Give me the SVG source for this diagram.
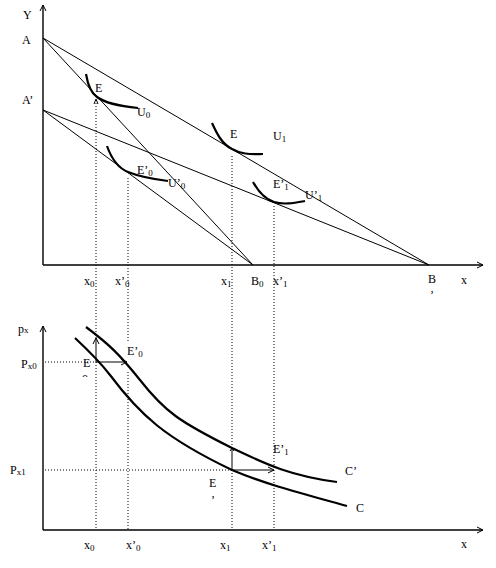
<svg xmlns="http://www.w3.org/2000/svg" width="496" height="568" viewBox="0 0 496 568">
<style>
text{font-family:"Liberation Serif","Times New Roman",serif;font-size:12px;fill:#000}
.s{font-size:9px}
.ax{stroke:#000;stroke-width:1.4;fill:none}
.ln{stroke:#000;stroke-width:1;fill:none}
.dot{stroke:#000;stroke-width:1;stroke-dasharray:1 2;fill:none}
.cv{stroke:#000;stroke-width:2.2;fill:none}
</style>
<defs>
<marker id="ah" markerWidth="8" markerHeight="8" refX="7" refY="4" orient="auto" markerUnits="userSpaceOnUse">
<path d="M1,1 L7,4 L1,7" fill="none" stroke="#000" stroke-width="1"/>
</marker>
<clipPath id="half"><rect x="80" y="372" width="14" height="5"/></clipPath>
</defs>
<rect width="496" height="568" fill="#fff"/>
<g id="axes">
<line class="ax" x1="43" y1="265" x2="43" y2="5" marker-end="url(#ah)"/>
<line class="ax" x1="43" y1="265" x2="483" y2="265" marker-end="url(#ah)"/>
<line class="ax" x1="43" y1="530" x2="43" y2="326" marker-end="url(#ah)"/>
<line class="ax" x1="43" y1="530" x2="483" y2="530" marker-end="url(#ah)"/>
</g>
<g id="connectors">
<line class="ln" x1="43" y1="38" x2="429" y2="265"/>
<line class="ln" x1="43" y1="38" x2="253" y2="265"/>
<line class="ln" x1="43" y1="110" x2="429" y2="265"/>
<line class="ln" x1="43" y1="110" x2="253" y2="265"/>
<line class="dot" x1="96" y1="100" x2="96" y2="338"/>
<line class="dot" x1="96" y1="362" x2="96" y2="530"/>
<path d="M94,104 L96,99 L98,104" class="ln"/>
<line class="dot" x1="128" y1="178" x2="128" y2="343"/>
<line class="dot" x1="128" y1="372" x2="128" y2="530"/>
<line class="dot" x1="232" y1="156" x2="232" y2="448"/>
<line class="dot" x1="232" y1="470" x2="232" y2="530"/>
<line class="dot" x1="274" y1="206" x2="274" y2="530"/>
<line class="dot" x1="45" y1="362" x2="96" y2="362"/>
<line class="dot" x1="45" y1="470" x2="232" y2="470"/>
<line class="ln" x1="96" y1="362" x2="96" y2="338" marker-end="url(#ah)"/>
<line class="ln" x1="96" y1="362" x2="127" y2="362" marker-end="url(#ah)"/>
<line class="ln" x1="232" y1="470" x2="232" y2="448"/>
<path class="ln" d="M230,451 L232,448 L234,451"/>
<line class="ln" x1="232" y1="470" x2="274" y2="470" marker-end="url(#ah)"/>
</g>
<g id="U0">
<path class="cv" d="M86,74 C88,86 91,93 97,97 C105,103 118,106 138,108"/>
<text x="137" y="116">U<tspan class="s" dy="2">0</tspan></text>
<text x="95" y="92">E</text>
</g>
<g id="U0p">
<path class="cv" d="M107,146 C112,160 118,168 128,172 C138,176 152,179 168,181"/>
<text x="137" y="174">E’<tspan class="s" dy="2">0</tspan></text>
<text x="168" y="187">U’<tspan class="s" dy="2">0</tspan></text>
</g>
<g id="U1">
<path class="cv" d="M212,123 C217,134 222,144 232,149 C242,155 252,154 263,154"/>
<text x="230" y="138">E</text>
<text x="273" y="140">U<tspan class="s" dy="2">1</tspan></text>
</g>
<g id="U1p">
<path class="cv" d="M253,182 C258,191 264,199 274,202 C284,205 294,203 305,201"/>
<text x="273" y="188">E’<tspan class="s" dy="2">1</tspan></text>
<text x="305" y="199">U’<tspan class="s" dy="2">1</tspan></text>
</g>
<g id="topLabels">
<text x="23" y="19">Y</text>
<text x="22" y="44">A</text>
<text x="22" y="104">A’</text>
<text x="84" y="285">x<tspan class="s" dy="2">0</tspan></text>
<text x="115" y="285">x’<tspan class="s" dy="2">0</tspan></text>
<text x="221" y="285">x<tspan class="s" dy="2">1</tspan></text>
<text x="251" y="285">B<tspan class="s" dy="2">0</tspan></text>
<text x="273" y="285">x’<tspan class="s" dy="2">1</tspan></text>
<text x="428" y="283">B</text>
<text x="430" y="299">’</text>
<text x="461" y="284">x</text>
</g>
<g id="Cp">
<path class="cv" d="M86,327 C110,345 120,355 140,380 C165,412 180,422 232,448 C260,461 285,475 337,482"/>
<text x="345" y="475">C’</text>
<text x="127" y="355">E’<tspan class="s" dy="2">0</tspan></text>
<text x="273" y="453">E’<tspan class="s" dy="2">1</tspan></text>
</g>
<g id="C">
<path class="cv" d="M75,338 C90,352 100,362 110,375 C140,415 165,438 232,470 C265,484 300,493 347,506"/>
<text x="356" y="512">C</text>
<text x="83" y="367">E</text>
<text x="82" y="383" clip-path="url(#half)">0</text>
<text x="209" y="487">E</text>
<text x="211" y="504">’</text>
</g>
<g id="bottomLabels">
<text x="18" y="333">p<tspan class="s">x</tspan></text>
<text x="21" y="368">P<tspan class="s" dy="1">x0</tspan></text>
<text x="10" y="474">P<tspan class="s" dy="1">x1</tspan></text>
<text x="84" y="549">x<tspan class="s" dy="2">0</tspan></text>
<text x="126" y="549">x’<tspan class="s" dy="2">0</tspan></text>
<text x="220" y="549">x<tspan class="s" dy="2">1</tspan></text>
<text x="262" y="549">x’<tspan class="s" dy="2">1</tspan></text>
<text x="461" y="548">x</text>
</g>
</svg>
